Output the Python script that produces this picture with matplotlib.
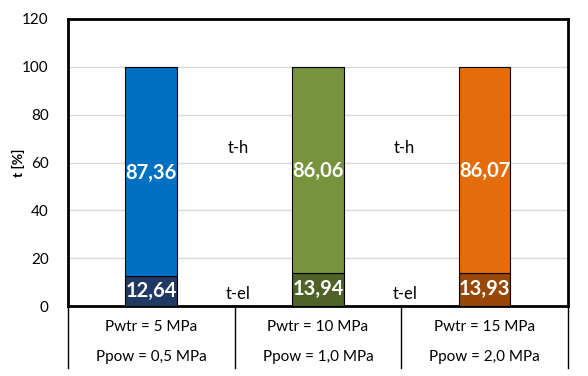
import matplotlib
matplotlib.use("Agg")
import matplotlib.pyplot as plt
from matplotlib.lines import Line2D

plt.rcParams['font.family'] = ['Lato', 'DejaVu Sans']

categories_top = ["Pwtr = 5 MPa", "Pwtr = 10 MPa", "Pwtr = 15 MPa"]
categories_bottom = ["Ppow = 0,5 MPa", "Ppow = 1,0 MPa", "Ppow = 2,0 MPa"]
t_el = [12.64, 13.94, 13.93]
t_h = [87.36, 86.06, 86.07]
el_labels = ["12,64", "13,94", "13,93"]
h_labels = ["87,36", "86,06", "86,07"]
el_colors = ["#203864", "#4F6228", "#974706"]
h_colors = ["#0070C0", "#77933C", "#E46C0A"]
yticks = [0, 20, 40, 60, 80, 100, 120]

fig = plt.figure(figsize=(5.88, 3.76), dpi=100)
ax = fig.add_axes([68/588, 1-306/376, 500/588, 287/376])

x = list(range(len(t_el)))
w = 0.31
ax.bar(x, t_el, width=w, color=el_colors, edgecolor="black", linewidth=0.8, zorder=3)
ax.bar(x, t_h, width=w, bottom=t_el, color=h_colors, edgecolor="black", linewidth=0.8, zorder=3)

for i in x:
    ax.text(i, t_el[i]/2, el_labels[i], ha="center", va="center", color="white",
            fontsize=14.5, fontweight="bold", zorder=4)
    ax.text(i, t_el[i] + t_h[i]/2 - 0.5, h_labels[i], ha="center", va="center", color="white",
            fontsize=14.5, fontweight="bold", zorder=4)

for xi in [0.52, 1.52]:
    ax.text(xi, 66, "t-h", ha="center", va="center", fontsize=12, color="black")
    ax.text(xi, 5, "t-el", ha="center", va="center", fontsize=12, color="black")

ax.set_xlim(-0.5, 2.5)
ax.set_ylim(0, 120)
ax.set_yticks(yticks)
ax.set_yticklabels([str(v) for v in yticks], fontsize=11)
ax.tick_params(axis="y", length=0, pad=14)
ax.set_xticks([])
ax.grid(axis="y", color="#D9D9D9", linewidth=1, zorder=0)
for s in ax.spines.values():
    s.set_linewidth(2)
    s.set_color("black")

fig.text(18/588, 1-163/376, "t [%]", rotation=90, ha="center", va="center",
         fontsize=10, fontweight="bold")

# category table below axis
for xb in [-0.5, 0.5, 1.5, 2.5]:
    ax.add_line(Line2D([xb, xb], [0, -26], color="black", linewidth=1, clip_on=False))
for i in x:
    ax.text(i, -8.8, categories_top[i], ha="center", va="center", fontsize=11)
    ax.text(i, -21.3, categories_bottom[i], ha="center", va="center", fontsize=11)

fig.savefig("out.png", dpi=100)
